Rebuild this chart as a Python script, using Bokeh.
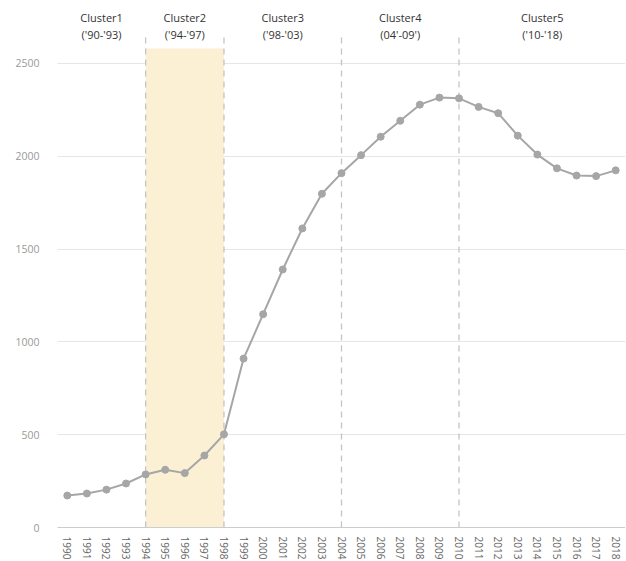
from bokeh.plotting import figure
from bokeh.models import ColumnDataSource, FixedTicker, Range1d
from bokeh.core.properties import value
from bokeh.embed import file_html
from bokeh.resources import INLINE

years = list(range(1990, 2019))
counts = [172, 183, 204, 237, 286, 311, 293, 388, 502,
          910, 1149, 1390, 1611, 1798, 1909, 2006, 2105, 2191, 2278, 2316,
          2312, 2266, 2232, 2111, 2009, 1935, 1896, 1893, 1924]

cluster_names = ["Cluster1", "Cluster2", "Cluster3", "Cluster4", "Cluster5"]
cluster_periods = ["('90-'93)", "('94-'97)", "('98-'03)", "(04'-09')", "('10-'18)"]
cluster_bounds = [1994, 1998, 2004, 2010]
highlight_start, highlight_end, highlight_top = [1994], [1998], [2580]
y_ticks = [0, 500, 1000, 1500, 2000, 2500]

x_lo, x_hi = 1989.5, 2018.5
y_lo, y_hi = 0, 2796

FONT = "Open Sans"

p = figure(output_backend="svg", toolbar_location=None,
           frame_width=568, frame_height=519,
           min_border_left=57, min_border_right=0, min_border_top=8,
           x_range=Range1d(x_lo, x_hi), y_range=Range1d(y_lo, y_hi))
p.outline_line_color = None
p.background_fill_color = "white"

# highlight band
p.quad(left=highlight_start, right=highlight_end, bottom=[0], top=highlight_top,
       fill_color="#FBF0D3", line_color=None)

# dashed cluster separators
p.segment(x0=cluster_bounds, x1=cluster_bounds, y0=[0] * len(cluster_bounds),
          y1=[2640] * len(cluster_bounds), line_color="#c4c4c4", line_width=1.3,
          line_dash="6 5")

# cluster labels
edges = [x_lo] + cluster_bounds + [x_hi]
centers = [(edges[i] + edges[i + 1]) / 2 for i in range(len(cluster_names))]
src_lab = ColumnDataSource(dict(x=centers, n=cluster_names, per=cluster_periods,
                                y1=[2748] * 5, y2=[2656] * 5))
p.text(x="x", y="y1", text="n", source=src_lab, text_align="center",
       text_baseline="middle", text_font=value(FONT), text_font_size="11px",
       text_color="#333333")
p.text(x="x", y="y2", text="per", source=src_lab, text_align="center",
       text_baseline="middle", text_font=value(FONT), text_font_size="11px",
       text_color="#333333")

# series
src = ColumnDataSource(dict(x=years, y=counts))
p.line("x", "y", source=src, line_color="#a6a6a6", line_width=2)
p.scatter("x", "y", source=src, size=7, fill_color="#a6a6a6", line_color="#a6a6a6")

# axes
p.xaxis.ticker = FixedTicker(ticks=years)
p.xaxis.major_label_orientation = "vertical"
p.xaxis.axis_line_color = "#cccccc"
p.xaxis.major_tick_line_color = None
p.xaxis.minor_tick_line_color = None
p.xaxis.major_label_text_font = FONT
p.xaxis.major_label_text_font_size = "10px"
p.xaxis.major_label_text_color = "#666666"
p.xaxis.major_label_standoff = 3

p.yaxis.ticker = FixedTicker(ticks=y_ticks)
p.yaxis.axis_line_color = None
p.yaxis.major_tick_line_color = None
p.yaxis.minor_tick_line_color = None
p.yaxis.major_label_text_font = FONT
p.yaxis.major_label_text_font_size = "10.5px"
p.yaxis.major_label_text_color = "#999999"
p.yaxis.major_label_standoff = 12

p.xgrid.grid_line_color = None
p.ygrid.grid_line_color = "#e6e6e6"
p.ygrid.ticker = FixedTicker(ticks=y_ticks)

open("out.html", "w").write(file_html(p, INLINE))
